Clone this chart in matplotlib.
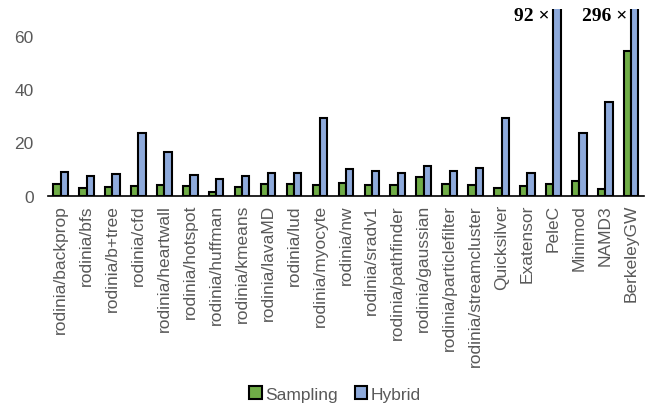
import matplotlib
matplotlib.use("Agg")
import matplotlib.pyplot as plt
import numpy as np

categories = [
    "rodinia/backprop", "rodinia/bfs", "rodinia/b+tree", "rodinia/cfd",
    "rodinia/heartwall", "rodinia/hotspot", "rodinia/huffman", "rodinia/kmeans",
    "rodinia/lavaMD", "rodinia/lud", "rodinia/myocyte", "rodinia/nw",
    "rodinia/sradv1", "rodinia/pathfinder", "rodinia/gaussian",
    "rodinia/particlefilter", "rodinia/streamcluster", "Quicksilver",
    "Exatensor", "PeleC", "Minimod", "NAMD3", "BerkeleyGW",
]
sampling = [4.4, 2.9, 3.4, 3.8, 4.0, 3.8, 1.5, 3.1, 4.4, 4.4, 4.0, 4.8,
            4.1, 4.1, 6.9, 4.4, 3.9, 2.9, 3.5, 4.5, 5.5, 2.5, 54.1]
hybrid = [8.8, 7.5, 8.1, 23.4, 16.5, 7.8, 6.3, 7.3, 8.5, 8.5, 29.0, 10.0,
          9.1, 8.5, 11.1, 9.1, 10.3, 29.0, 8.6, 92, 23.5, 35.0, 296]
y_ticks = [0, 20, 40, 60]
y_max = 70

green = "#70AD47"
blue = "#8EAADB"
grey = "#595959"

plt.rcParams["font.family"] = ["Liberation Sans", "DejaVu Sans"]

fig = plt.figure(figsize=(6.52, 4.06), dpi=100)
ax = fig.add_axes([0.073, 0.5155, 0.915, 0.46])

x = np.arange(len(categories))
w = 0.28
ax.bar(x - w / 2, sampling, w, color=green, edgecolor="black", linewidth=1.5,
       label="Sampling")
ax.bar(x + w / 2, hybrid, w, color=blue, edgecolor="black", linewidth=1.5,
       label="Hybrid")

ax.set_xlim(-0.5, len(categories) - 0.5)
ax.set_ylim(0, y_max)
ax.set_yticks(y_ticks)
ax.set_xticks(x)
ax.set_xticklabels(categories, rotation=90)
ax.tick_params(axis="both", length=0, labelsize=12.5, colors=grey)
ax.tick_params(axis="x", pad=6)
ax.tick_params(axis="y", pad=10)
for s in ("left", "right", "top"):
    ax.spines[s].set_visible(False)
ax.spines["bottom"].set_color("black")
ax.spines["bottom"].set_linewidth(1.2)

# Labels for bars that run past the top of the axis
for i, v in enumerate(hybrid):
    if v > y_max:
        ax.annotate(f"{v:g} ×", xy=(i, 67.4), xytext=(-3, 0),
                    textcoords="offset points", ha="right", va="center",
                    fontsize=14, fontweight="bold",
                    family=["Liberation Serif", "DejaVu Serif"],
                    annotation_clip=False)

fig.legend(loc="center", bbox_to_anchor=(0.514, 0.027), ncol=2, frameon=False,
           fontsize=12.5, handlelength=0.7, handleheight=0.7,
           handletextpad=0.2, columnspacing=1.0, labelcolor=grey)

fig.savefig("out.png", dpi=100)
